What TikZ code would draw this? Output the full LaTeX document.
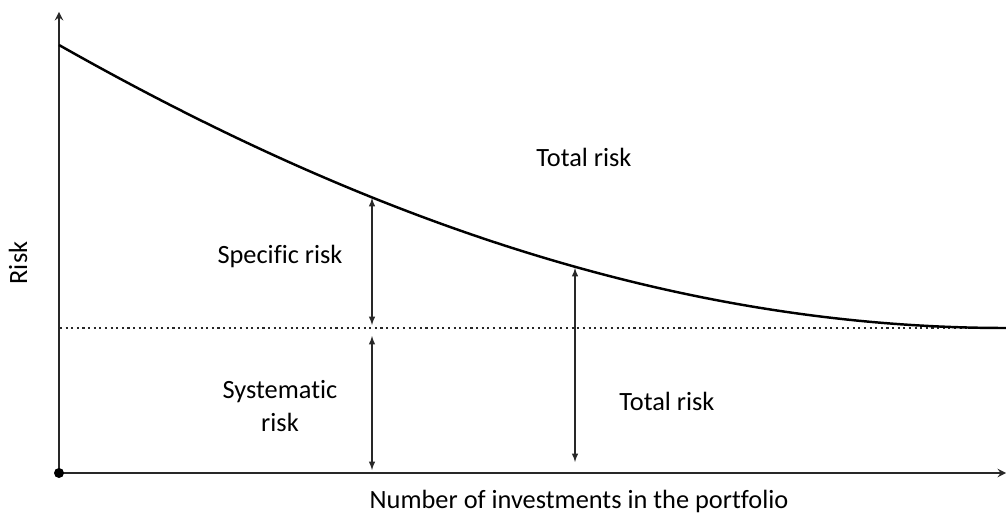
\documentclass[tikz,border=0pt]{standalone}
\usepackage{fontspec}
\setmainfont{Carlito}[Ligatures=CommonOff]
\usetikzlibrary{positioning}
\usetikzlibrary{calc}
\usetikzlibrary{arrows}
\definecolor{inkgray}{RGB}{40,40,40}

\begin{document}
\begin{tikzpicture}[
    x=0.02cm, y=-0.02cm,
    >=latex,
    % node styles
    lbl/.style = {
      draw=none,
      align=center,
      inner sep=0pt,
      font=\fontsize{15}{18.8}\selectfont,
      text=black
    },
    % line styles
    axis/.style = {-stealth, line width=1.1pt, draw=inkgray},
    curve/.style = {line width=1.4pt, draw=black},
    floor/.style = {dotted, line width=1.2pt, draw=inkgray},
    twoarr/.style = {<->, >=latex, line width=0.65pt, draw=inkgray}
  ]
  \useasboundingbox (0,0) rectangle (1006,513);

  % --- Axes
  \coordinate (origin) at (59,473);
  \coordinate (ytop) at (59,12);
  \coordinate (xend) at (1006,473);
  \draw[axis] (origin) -- (ytop);
  \draw[axis] (origin) -- (xend);
  \fill[black] (origin) circle (5);

  % --- Risk curve and market floor
  \coordinate (start) at (59,45);
  \coordinate (floorL) at (60,328);
  \coordinate (floorR) at (1006,328);
  \draw[floor] (floorL) -- (floorR);
  \draw[curve] (start) .. controls (345,207) and (660,328) .. (floorR);

  % --- Measuring arrows
  \coordinate (specTop) at (372,198);
  \coordinate (specBot) at (372,325);
  \coordinate (sysTop) at (372,336);
  \coordinate (sysBot) at (372,470);
  \coordinate (totTop) at (575,268);
  \coordinate (totBot) at (575,462);
  \draw[twoarr] (specTop) -- (specBot);
  \draw[twoarr] (sysTop) -- (sysBot);
  \draw[twoarr] (totTop) -- (totBot);

  % --- Labels
  \node[lbl] (totalUp) at (584,157) {Total risk};
  \node[lbl] (specific) at (280,256) {Specific risk};
  \node[lbl] (systematic) at (280,406) {Systematic\\risk};
  \node[lbl] (totalLow) at (667,401) {Total risk};
  \node[lbl, rotate=90] (ylabel) at (18,263) {Risk};
  \node[lbl] (xlabel) at (579,501) {Number of investments in the portfolio};
\end{tikzpicture}
\end{document}
